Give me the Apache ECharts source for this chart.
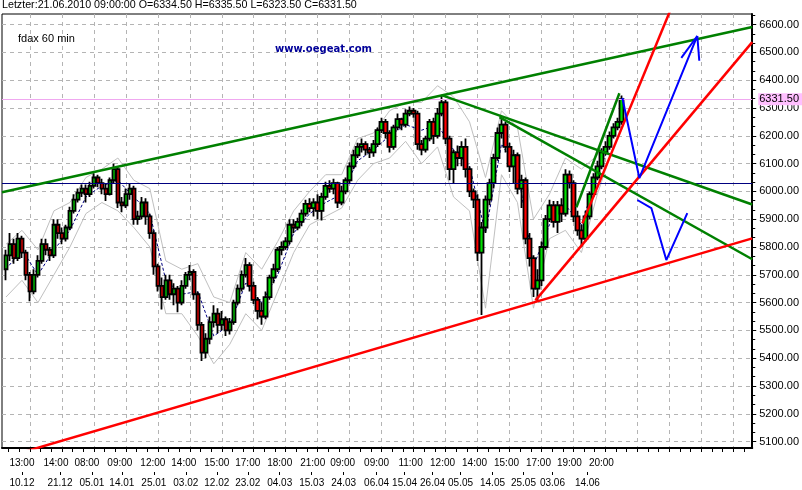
<!DOCTYPE html>
<html><head><meta charset="utf-8">
<script src="https://cdn.jsdelivr.net/npm/echarts@6/dist/echarts.min.js"></script>
<style>html,body{margin:0;padding:0;background:#fff}#c{width:802px;height:490px}</style>
</head><body><div id="c"></div>
<script>
// ---- data (x in bar-index units, one unit per candle slot) ----
const firstBar = 2;
const openP = [
5720,5770,5810,5760,5830,5780,5700,5640,5700,5750,
5810,5790,5770,5880,5850,5830,5870,5930,5970,5995,
6010,5990,6020,6050,6030,6010,5990,6040,6080,5960,
5950,5990,6010,5900,5910,5960,5910,5850,5730,5660,
5620,5680,5630,5650,5600,5660,5700,5710,5630,5520,
5420,5470,5530,5560,5520,5540,5500,5530,5600,5650,
5700,5735,5660,5610,5570,5550,5620,5690,5720,5790,
5800,5820,5880,5870,5890,5920,5955,5940,5960,5930,
5980,6020,6010,6030,5960,6000,6040,6090,6130,6160,
6170,6150,6140,6170,6220,6250,6210,6160,6230,6260,
6240,6280,6290,6280,6170,6150,6190,6250,6200,6280,
6320,6190,6080,6140,6120,6160,6080,6000,5970,5780,
5870,5970,6030,6120,6210,6240,6160,6090,6130,6010,
6040,5830,5760,5650,5680,5800,5900,5950,5890,5950,
5920,6060,6030,5910,5860,5830,5910,5990,6050,6090,
6140,6160,6200,6230,6250];
const closeP = [
5770,5810,5760,5830,5780,5700,5640,5700,5750,5810,
5790,5770,5880,5850,5830,5870,5930,5970,5995,6010,
5990,6020,6050,6030,6010,5990,6040,6080,5960,5950,
5990,6010,5900,5910,5960,5910,5850,5730,5660,5620,
5680,5630,5650,5600,5660,5700,5710,5630,5520,5420,
5470,5530,5560,5520,5540,5500,5530,5600,5650,5700,
5735,5660,5610,5570,5550,5620,5690,5720,5790,5800,
5820,5880,5870,5890,5920,5955,5940,5960,5930,5980,
6020,6010,6030,5960,6000,6040,6090,6130,6160,6170,
6150,6140,6170,6220,6250,6210,6160,6230,6260,6240,
6280,6290,6280,6170,6150,6190,6250,6200,6280,6320,
6190,6080,6140,6120,6160,6080,6000,5970,5780,5870,
5970,6030,6120,6210,6240,6160,6090,6130,6010,6040,
5830,5760,5650,5680,5800,5900,5950,5890,5950,5920,
6060,6030,5910,5860,5830,5910,5990,6050,6090,6140,
6160,6200,6230,6250,6331.5];
const lowP = [
5680,5750,5740,5750,5760,5680,5605,5630,5690,5740,
5770,5750,5760,5830,5810,5820,5860,5920,5960,5980,
5960,5980,6010,6015,5990,5965,5985,6030,5940,5925,
5940,5970,5880,5880,5900,5880,5830,5700,5640,5575,
5610,5610,5590,5565,5590,5650,5680,5610,5500,5390,
5400,5450,5510,5490,5500,5480,5485,5520,5590,5640,
5690,5640,5595,5540,5520,5540,5610,5670,5710,5770,
5790,5810,5850,5860,5875,5910,5925,5910,5900,5895,
5970,5995,5990,5940,5950,5990,6030,6080,6120,6140,
6130,6120,6125,6160,6210,6190,6140,6150,6220,6220,
6230,6270,6265,6150,6130,6140,6180,6170,6190,6270,
6170,6040,6030,6090,6090,6050,5980,5940,5750,5555,
5850,5950,6010,6110,6190,6140,6070,6030,5990,5940,
5810,5730,5620,5605,5660,5790,5890,5870,5850,5890,
5910,6010,5890,5840,5800,5820,5900,5980,6040,6080,
6130,6150,6190,6220,6240];
const highP = [
5790,5850,5830,5850,5840,5790,5710,5720,5770,5830,
5830,5800,5900,5900,5870,5880,5945,5990,6010,6025,
6025,6035,6065,6060,6045,6030,6050,6100,6090,5980,
6010,6030,6020,5930,5980,5975,5920,5860,5740,5690,
5700,5700,5670,5660,5680,5710,5735,5720,5640,5530,
5490,5550,5590,5580,5570,5550,5545,5610,5665,5715,
5760,5745,5675,5620,5600,5640,5700,5740,5800,5820,
5835,5900,5900,5905,5935,5970,5975,5975,5990,5995,
6035,6040,6045,6035,6020,6050,6105,6150,6175,6190,
6180,6160,6185,6230,6265,6260,6220,6240,6280,6265,
6295,6305,6300,6290,6185,6200,6260,6265,6300,6345,
6330,6200,6150,6165,6180,6190,6090,6010,5990,5890,
5985,6045,6135,6230,6260,6250,6175,6150,6140,6060,
6050,5850,5770,5720,5820,5915,5970,5965,5965,5975,
6080,6075,6040,5930,5880,5930,6000,6065,6110,6155,
6180,6215,6245,6265,6345];
// envelope / average lines, sampled every 4th candle
const bandStep = 4;
const upperBand = [5810,5860,5790,5930,5960,6050,6080,6120,6040,6010,5750,5720,5740,5620,5600,5780,5720,5820,5930,6000,6060,6060,6190,6210,6290,6320,6320,6380,6340,6250,6050,6290,6230,5900,5990,6120,6080,6130,6290];
const lowerBand = [5620,5680,5600,5700,5800,5920,5960,5930,5870,5800,5560,5560,5480,5380,5450,5560,5500,5640,5780,5880,5910,5940,6040,6100,6120,6180,6100,6160,5980,5930,5580,6060,5960,5580,5830,5860,5780,5990,6160];
const avgLine = [5720,5790,5700,5790,5860,5980,6020,6040,5980,5920,5680,5630,5640,5480,5520,5670,5600,5700,5850,5920,5960,5990,6110,6150,6200,6240,6220,6240,6150,6090,5850,6170,6080,5730,5880,5950,5880,6060,6200];
// drawn trend lines: [barIndex, price]
const greenLines = [
  [[1,5997],[188.75,6591]],
  [[111,6346],[188.75,5953]],
  [[125.5,6267],[188.75,5756]],
  [[144.75,5943],[155.5,6353]]
];
const redLines = [
  [[1,5040],[188.75,5831]],
  [[134.5,5608],[188.75,6537]],
  [[146.25,5885],[168.5,6660]]
];
const blueLines = [
  [[156.25,6336],[160.5,6048],[175,6559]],
  [[171,6480],[175,6559]],
  [[175,6559],[175.5,6470]],
  [[160,5969],[163.5,5940],[167.25,5753],[172.5,5922]]
];
const lastPrice = 6331.5;
const refLevel = 6028;
// axis labels
const timeLabelBars = [6,14.5,22.25,30.5,38.75,46.5,54.75,62.5,70.5,78.75,86.25,94.75,103.25,111.25,119.25,127.25,135.25,143,151];
const timeLabels = ['13:00','14:00','08:00','09:00','12:00','14:00','15:00','17:00','18:00','21:00','09:00','09:00','11:00','12:00','14:00','15:00','17:00','19:00','20:00'];
const dateTickBars = [6,15.5,23.5,31,39,47,54.75,62.5,70.5,78.5,86.5,94.75,101.75,108.75,115.75,123.75,131.5,138.75,147.5];
const dateLabels = ['10.12','21.12','05.01','14.01','25.01','03.02','12.02','23.02','04.03','15.03','24.03','06.04','15.04','26.04','05.05','14.05','25.05','03.06','14.06'];
const priceTicks = [5100,5200,5300,5400,5500,5600,5700,5800,5900,6000,6100,6200,6300,6400,6500,6600];

// ---- build ----
const X_MIN = 1, X_MAX = 188.75, Y_MIN = 5077, Y_MAX = 6638;
const candles = openP.map((o, i) => [firstBar + i, o, closeP[i], lowP[i], highP[i]]);
const sampled = arr => arr.map((v, j) => [firstBar + j * bandStep, v]);
const majorX = []; for (let v = 8; v <= X_MAX; v += 8) majorX.push(v);
const minorX = []; for (let v = 8/3; v <= X_MAX; v += 8/3) { if (Math.abs(v/8 - Math.round(v/8)) > 0.01) minorX.push(v); }
const minorY = []; for (let v = 5100; v <= 6600; v += 100) { minorY.push(v + 100/3, v + 200/3); }
const nearest = (arr, labels, v) => { for (let i = 0; i < arr.length; i++) if (Math.abs(arr[i]-v) < 1e-6) return labels[i]; return ''; };
const lbl = {fontFamily: 'Liberation Sans, Arial, sans-serif', fontSize: 11, color: '#000'};
const xlbl = {fontFamily: 'Liberation Sans, Arial, sans-serif', fontSize: 10, color: '#000'};
function lineSeries(pts, color, width, extra) {
  return Object.assign({type: 'line', data: pts, symbol: 'none', silent: true, clip: true,
    lineStyle: {color: color, width: width}, z: 5}, extra || {});
}
const series = [
  lineSeries(sampled(upperBand), '#c0c0c0', 1, {z: 1}),
  lineSeries(sampled(lowerBand), '#c0c0c0', 1, {z: 1}),
  lineSeries(sampled(avgLine), '#000080', 1, {z: 1, lineStyle: {color: '#000080', width: 1, type: [3, 2]}}),
  {
    type: 'candlestick', data: candles, barWidth: 4, z: 2,
    itemStyle: {color: '#00e000', color0: '#ff0000', borderColor: '#000', borderColor0: '#000', borderWidth: 1.8},
    markLine: {
      silent: true, symbol: 'none', animation: false,
      data: [
        {yAxis: lastPrice, lineStyle: {color: '#f0a8f0', width: 1, type: 'solid'},
          label: {show: true, position: 'end', distance: 6, formatter: lastPrice.toFixed(2), backgroundColor: '#ffbfff',
            padding: [1, 3, 0, 1], color: '#000', fontSize: 11, fontFamily: 'Liberation Sans, Arial, sans-serif'}},
        {yAxis: refLevel, lineStyle: {color: '#000080', width: 1, type: 'solid'}, label: {show: false}}
      ]
    }
  }
];
greenLines.forEach(p => series.push(lineSeries(p, '#008000', 2.5)));
redLines.forEach(p => series.push(lineSeries(p, '#ff0000', 2.5)));
blueLines.forEach(p => series.push(lineSeries(p, '#0000ff', 2)));

const chart = echarts.init(document.getElementById('c'), null, {renderer: 'canvas'});
chart.setOption({
  animation: false,
  backgroundColor: '#fff',
  title: [
    {text: 'Letzter:21.06.2010 09:00:00 O=6334.50 H=6335.50 L=6323.50 C=6331.50', left: 2, top: 0, padding: 0,
      textStyle: {fontFamily: 'Liberation Sans, Arial, sans-serif', fontSize: 10.7, fontWeight: 'normal', color: '#000'}},
    {text: 'fdax 60 min', left: 18, top: 33, padding: 0,
      textStyle: {fontFamily: 'Liberation Sans, Arial, sans-serif', fontSize: 11, fontWeight: 'normal', color: '#000'}},
    {text: 'www.oegeat.com', left: 275, top: 44, padding: 0,
      textStyle: {fontFamily: 'DejaVu Sans, sans-serif', fontSize: 10, fontWeight: 'bold', color: '#000099'}}
  ],
  grid: {left: 2, right: 49, top: 14, bottom: 42, show: true, borderColor: '#000', borderWidth: 1, containLabel: false},
  xAxis: [
    {type: 'value', min: X_MIN, max: X_MAX, position: 'bottom',
      axisLine: {show: true, onZero: false, lineStyle: {color: '#000', width: 2}},
      axisTick: {show: true, customValues: majorX, length: 4, lineStyle: {color: '#000'}},
      splitLine: {show: true, lineStyle: {color: '#b4b4b4', type: [4, 4], width: 1}},
      axisLabel: Object.assign({customValues: timeLabelBars, margin: 10, formatter: v => nearest(timeLabelBars, timeLabels, v)}, xlbl)},
    {type: 'value', min: X_MIN, max: X_MAX, position: 'bottom',
      axisLine: {show: false}, splitLine: {show: false}, axisLabel: {show: false},
      axisTick: {show: true, customValues: minorX, length: 4, lineStyle: {color: '#000'}}},
    {type: 'value', min: X_MIN, max: X_MAX, position: 'bottom', offset: 24,
      axisLine: {show: false, onZero: false}, splitLine: {show: false},
      axisTick: {show: true, customValues: dateTickBars, length: 3, lineStyle: {color: '#000'}},
      axisLabel: Object.assign({customValues: dateTickBars, margin: 6, formatter: v => nearest(dateTickBars, dateLabels, v)}, xlbl)}
  ],
  yAxis: [
    {type: 'value', min: Y_MIN, max: Y_MAX, position: 'right', scale: true,
      axisLine: {show: true, onZero: false, lineStyle: {color: '#000', width: 2}},
      axisTick: {show: true, customValues: priceTicks, length: 4, lineStyle: {color: '#000'}},
      splitLine: {show: true, lineStyle: {color: '#b4b4b4', type: [4, 4], width: 1}},
      axisLabel: Object.assign({customValues: priceTicks, margin: 7, formatter: v => v.toFixed(2)}, lbl)},
    {type: 'value', min: Y_MIN, max: Y_MAX, position: 'right', scale: true,
      axisLine: {show: false}, splitLine: {show: false}, axisLabel: {show: false},
      axisTick: {show: true, customValues: minorY, length: 3, lineStyle: {color: '#000'}}}
  ],
  series: series
});
</script>
</body></html>
